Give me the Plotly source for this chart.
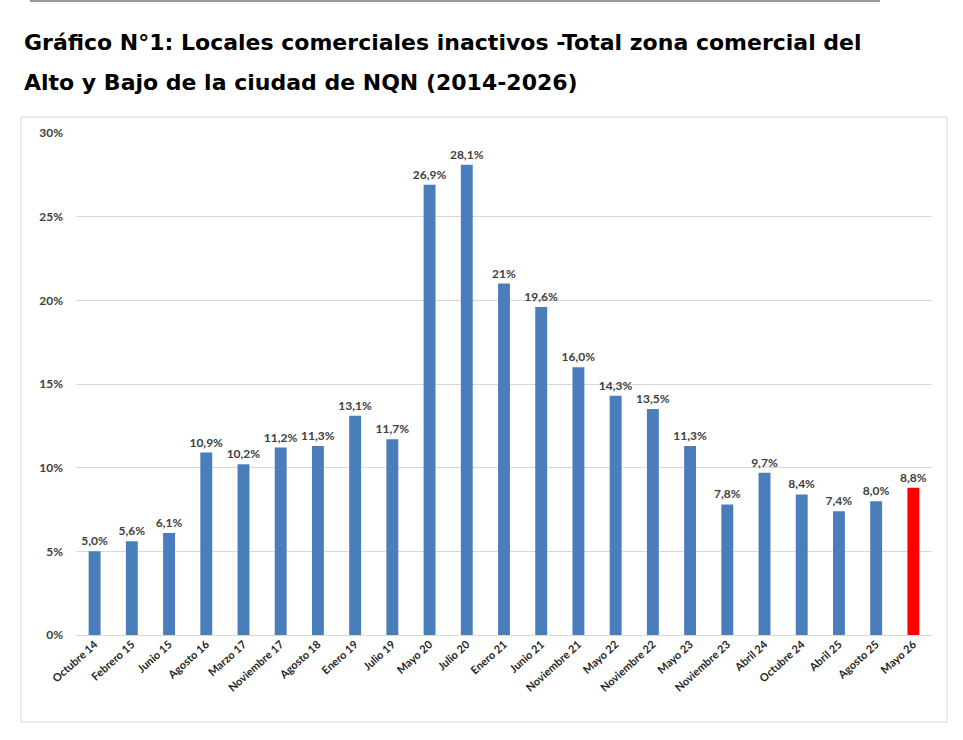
import plotly.graph_objects as go

categories = ["Octubre 14", "Febrero 15", "Junio 15", "Agosto 16", "Marzo 17", "Noviembre 17",
              "Agosto 18", "Enero 19", "Julio 19", "Mayo 20", "Julio 20", "Enero 21", "Junio 21",
              "Noviembre 21", "Mayo 22", "Noviembre 22", "Mayo 23", "Noviembre 23", "Abril 24",
              "Octubre 24", "Abril 25", "Agosto 25", "Mayo 26"]
values = [5.0, 5.6, 6.1, 10.9, 10.2, 11.2, 11.3, 13.1, 11.7, 26.9, 28.1, 21.0, 19.6,
          16.0, 14.3, 13.5, 11.3, 7.8, 9.7, 8.4, 7.4, 8.0, 8.8]
labels = ["5,0%", "5,6%", "6,1%", "10,9%", "10,2%", "11,2%", "11,3%", "13,1%", "11,7%",
          "26,9%", "28,1%", "21%", "19,6%", "16,0%", "14,3%", "13,5%", "11,3%", "7,8%",
          "9,7%", "8,4%", "7,4%", "8,0%", "8,8%"]
colors = ["#4A7EBB"] * (len(values) - 1) + ["#FF0000"]

W, H = 963, 740
L, R, T, B = 76, 31, 133, 105
pw, ph = W - L - R, H - T - B

def px(x):
    return (x - L) / pw

def py(y):
    return (H - B - y) / ph

fig = go.Figure(go.Bar(
    x=categories, y=values, text=labels, textposition="outside",
    constraintext="none",
    marker=dict(color=colors, line=dict(width=0)),
    textfont=dict(family="Lato", size=12, color="#404040", weight="bold"),
    cliponaxis=False,
))

fig.update_layout(
    width=W, height=H, margin=dict(l=L, r=R, t=T, b=B, autoexpand=False),
    paper_bgcolor="white", plot_bgcolor="white",
    bargap=0.68, showlegend=False,
    uniformtext=dict(mode=False),
    xaxis=dict(tickangle=-42, tickfont=dict(family="Lato", size=11, color="#262626", weight="bold"),
               showgrid=False, showline=False, ticks=""),
    yaxis=dict(range=[0, 30], dtick=5, ticksuffix="%", showgrid=True, gridcolor="#D9D9D9",
               zeroline=True, zerolinecolor="#D9D9D9", zerolinewidth=1,
               tickfont=dict(family="Lato", size=12, color="#404040", weight="bold"),
               ticks="", ticklabelstandoff=12),
    shapes=[
        dict(type="rect", xref="paper", yref="paper", x0=px(21), x1=px(947), y0=py(722), y1=py(117),
             line=dict(color="#D9D9D9", width=1), layer="below"),
        dict(type="line", xref="paper", yref="paper", x0=px(30), x1=px(880), y0=py(1), y1=py(1),
             line=dict(color="#9A9A9A", width=2)),
    ],
    annotations=[
        dict(xref="paper", yref="paper", x=px(22), y=py(43), xanchor="left", yanchor="middle",
             showarrow=False, text="Gráfico N°1: Locales comerciales inactivos -Total zona comercial del",
             font=dict(family="DejaVu Sans", size=22, color="#000000", weight="bold")),
        dict(xref="paper", yref="paper", x=px(22), y=py(82), xanchor="left", yanchor="middle",
             showarrow=False, text="Alto y Bajo de la ciudad de NQN (2014-2026)",
             font=dict(family="DejaVu Sans", size=22, color="#000000", weight="bold")),
    ],
)

fig.write_html("out.html")
